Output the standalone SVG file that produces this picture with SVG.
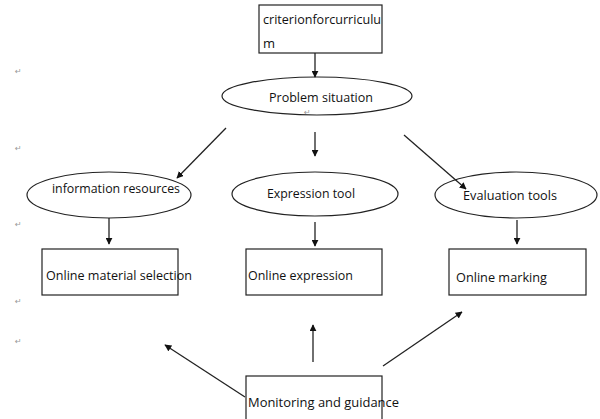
<svg xmlns="http://www.w3.org/2000/svg" width="600" height="419" viewBox="0 0 600 419">
<defs>
<style>
.shape{fill:#fff;stroke:#222;stroke-width:1.2}
.t{font-family:"Open Sans","Noto Sans","Liberation Sans",sans-serif;font-size:13px;fill:#111}
.pm{font-family:"DejaVu Sans","Liberation Sans",sans-serif;font-size:8px;fill:#999}
.c{stroke:#222;stroke-width:1.3;fill:none;marker-end:url(#ah)}
</style>
<marker id="ah" viewBox="0 0 10 10" refX="9" refY="5" markerWidth="7" markerHeight="7" markerUnits="userSpaceOnUse" orient="auto">
<path d="M0,0 L10,5 L0,10 z" fill="#111"/>
</marker>
</defs>
<rect width="600" height="419" fill="#fff"/>
<g id="marks">
<text class="pm" x="15" y="74">↵</text>
<text class="pm" x="15" y="151">↵</text>
<text class="pm" x="15" y="227">↵</text>
<text class="pm" x="15" y="304">↵</text>
<text class="pm" x="15" y="344">↵</text>
</g>
<g id="criterion">
<rect class="shape" x="259" y="5" width="123" height="48"/>
<text class="t" x="263" y="24" textLength="118" lengthAdjust="spacingAndGlyphs">criterionforcurriculu</text>
<text class="t" x="263" y="48">m</text>
</g>
<g id="problem">
<ellipse class="shape" cx="317" cy="96" rx="95" ry="19"/>
<text class="t" x="269" y="102" textLength="104" lengthAdjust="spacingAndGlyphs">Problem situation</text>
<text class="pm" x="304" y="115">↵</text>
</g>
<g id="info">
<ellipse class="shape" cx="109" cy="195" rx="82" ry="23"/>
<text class="t" x="52" y="193" textLength="128" lengthAdjust="spacingAndGlyphs">information resources</text>
</g>
<g id="expression">
<ellipse class="shape" cx="315" cy="194" rx="83" ry="22"/>
<text class="t" x="267" y="198" textLength="88" lengthAdjust="spacingAndGlyphs">Expression tool</text>
</g>
<g id="evaluation">
<ellipse class="shape" cx="516" cy="195" rx="81" ry="23"/>
<text class="t" x="463" y="200" textLength="94" lengthAdjust="spacingAndGlyphs">Evaluation tools</text>
</g>
<g id="material">
<rect class="shape" x="42" y="249" width="136" height="46"/>
<text class="t" x="46" y="280" textLength="146" lengthAdjust="spacingAndGlyphs">Online material selection</text>
</g>
<g id="onlineexpr">
<rect class="shape" x="246" y="249" width="136" height="46"/>
<text class="t" x="248" y="280" textLength="105" lengthAdjust="spacingAndGlyphs">Online expression</text>
</g>
<g id="marking">
<rect class="shape" x="449" y="249" width="137" height="46"/>
<text class="t" x="456" y="282" textLength="91" lengthAdjust="spacingAndGlyphs">Online marking</text>
</g>
<g id="monitoring">
<rect class="shape" x="246" y="376" width="136" height="50"/>
<text class="t" x="248" y="407" textLength="151" lengthAdjust="spacingAndGlyphs">Monitoring and guidance</text>
</g>
<g id="connectors">
<line class="c" x1="315" y1="53" x2="315" y2="77"/>
<line class="c" x1="226" y1="128" x2="177" y2="178"/>
<line class="c" x1="315" y1="132" x2="315" y2="156"/>
<line class="c" x1="404" y1="135" x2="466" y2="189"/>
<line class="c" x1="109" y1="218" x2="109" y2="244"/>
<line class="c" x1="315" y1="222" x2="315" y2="246"/>
<line class="c" x1="517" y1="220" x2="517" y2="244"/>
<line class="c" x1="245" y1="397" x2="165" y2="345"/>
<line class="c" x1="313" y1="362" x2="313" y2="325"/>
<line class="c" x1="383" y1="366" x2="462" y2="312"/>
</g>
</svg>
